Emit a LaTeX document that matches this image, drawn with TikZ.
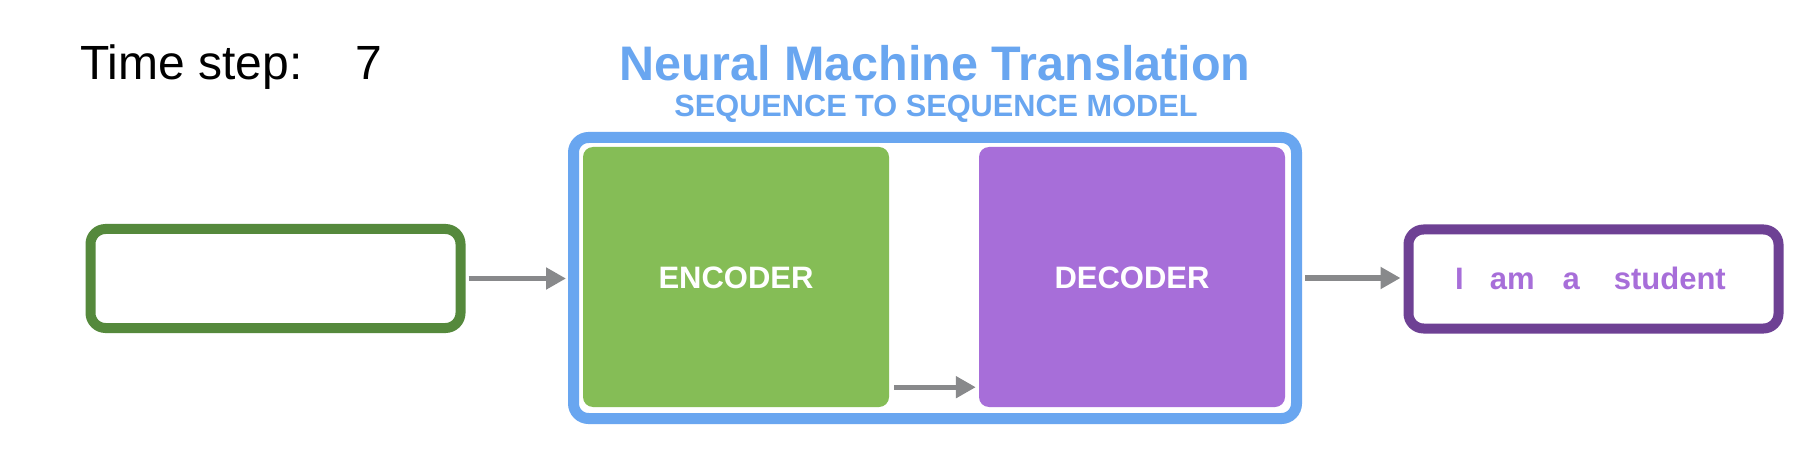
\documentclass[tikz,border=0pt]{standalone}
\usepackage{fontspec}
\setmainfont{Liberation Sans}
\usetikzlibrary{arrows.meta}
\definecolor{nmtblue}{HTML}{69A6F0}
\definecolor{encgreen}{HTML}{85BD56}
\definecolor{ingreen}{HTML}{55893C}
\definecolor{decpurple}{HTML}{A76ED9}
\definecolor{outpurple}{HTML}{6E4194}
\definecolor{arrowgray}{HTML}{88898B}
\tikzset{
  iobox/.style={draw, line width=10pt, rounded corners=15pt, fill=white,
    minimum width=370pt, minimum height=99pt, inner sep=0pt},
  blockbox/.style={rounded corners=10pt, minimum width=306pt, minimum height=260pt,
    inner sep=0pt, text=white, font=\fontsize{31pt}{31pt}\selectfont\bfseries},
  frame/.style={draw=nmtblue, line width=11pt, rounded corners=15pt, fill=white,
    minimum width=723pt, minimum height=281pt, inner sep=0pt},
  arr/.style={draw=arrowgray, line width=5pt, -{Triangle[length=20pt,width=21pt]}},
  lbl/.style={inner sep=0pt, anchor=base}
}
\begin{document}
\begin{tikzpicture}[x=1pt,y=-1pt]
\useasboundingbox[fill=white] (0,0) rectangle (1814,454);
% titles
\node[lbl, anchor=base west, font=\fontsize{48pt}{48pt}\selectfont] (ts) at (80,80) {Time step:\hspace{53pt}7};
\node[lbl, text=nmtblue, font=\fontsize{48.5pt}{48pt}\selectfont\bfseries] (title) at (935,81) {Neural Machine Translation};
\node[lbl, text=nmtblue, font=\fontsize{30.7pt}{31pt}\selectfont\bfseries] (sub) at (936,117) {SEQUENCE TO SEQUENCE MODEL};
% boxes
\node[iobox, draw=ingreen] (in) at (275.5,278.5) {};
\node[frame] (nmt) at (935,278) {};
\node[blockbox, fill=encgreen] (enc) at (736,277) {};
\node[blockbox, fill=decpurple] (dec) at (1132,277) {};
\node[lbl, text=white, font=\fontsize{31pt}{31pt}\selectfont\bfseries] (enct) at (736,288) {ENCODER};
\node[lbl, text=white, font=\fontsize{31pt}{31pt}\selectfont\bfseries] (dect) at (1132,288) {DECODER};
\node[iobox, draw=outpurple] (out) at (1593.5,279) {};
\node[lbl, anchor=base west, text=decpurple, font=\fontsize{31pt}{31pt}\selectfont\bfseries] (outt) at (1455,290) {I\hspace{26pt}am\hspace{28pt}a\hspace{34pt}student};
% arrows
\draw[arr, shorten <=3pt, shorten >=2pt] (in.east) -- (nmt.west |- in.east);
\draw[arr, shorten <=5pt, shorten >=3pt] ([yshift=20pt]enc.south east) -- ([yshift=20pt]dec.south west);
\draw[arr, shorten <=3pt, shorten >=3pt] (nmt.east) -- (out.west |- nmt.east);
\end{tikzpicture}
\end{document}
